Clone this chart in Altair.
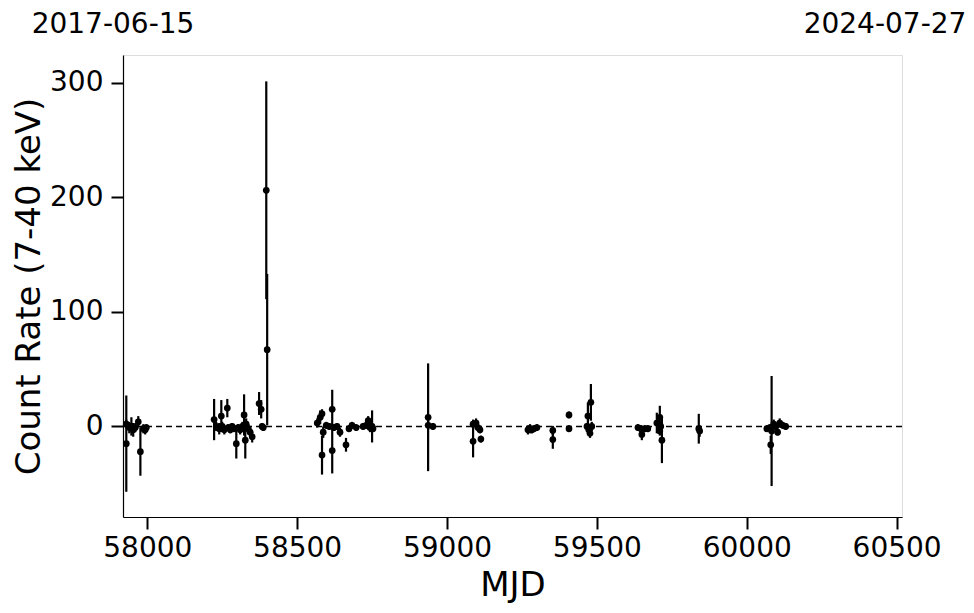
import altair as alt
import pandas as pd

# Light-curve values (MJD, count rate, 1-sigma error)
mjd = [
    57930, 57930, 57940, 57947, 57953, 57960, 57970, 57977, 57987, 57993, 57997,
    58223, 58230, 58240, 58247, 58250, 58257, 58267, 58270, 58277, 58283, 58290,
    58297, 58303, 58310, 58317, 58323, 58327, 58330, 58337, 58343, 58350, 58373,
    58380, 58383, 58387, 58397, 58400,
    58567, 58577, 58583, 58583, 58587, 58597, 58607, 58617, 58617, 58623, 58633,
    58643, 58663, 58673, 58683, 58697, 58720, 58730, 58737, 58743, 58750, 58753,
    58937, 58937, 58953,
    59087, 59087, 59097, 59103, 59110, 59113,
    59270, 59277, 59283, 59290, 59300,
    59353, 59353, 59407, 59407,
    59467, 59470, 59473, 59477, 59480, 59483,
    59637, 59647, 59650, 59660, 59670,
    59700, 59710, 59710, 59713, 59717,
    59840, 59843,
    60067, 60077, 60080, 60083, 60090, 60097, 60103, 60110, 60120, 60130,
]
rate = [
    -15, 2, -1, 0, -3, -1, 4, -22, -2, -3, -1,
    6, 0, -2, 9, 0, -3, 16, -1, -3, 0, -2,
    -15, -1, -3, 0, 10, -12, 2, -2, -5, -9, 20,
    15, 0, -1, 206, 67,
    3, 8, 11, -25, -5, 1, 0, 15, -21, -1, 0,
    -5, -16, -2, 1, -1, 0, 1, 5, -1, 0, -2,
    8, 1, 0,
    2, -13, 3, -1, -3, -11,
    -3, -2, -3, -2, -1,
    -3.5, -11.5, 10, -2,
    0, 9, -3, -6, 21, 0,
    -1, -2, -7, -2, -2,
    3, 8, -4, 0, -12,
    -2, -4,
    -2, -1, -16, -4, 2, 0, -5, 3, 1, 0,
]
err = [
    42, 4, 5, 8, 6, 4, 5, 21, 4, 4, 3,
    18, 4, 5, 14, 4, 4, 8, 3, 3, 3, 3,
    13, 3, 4, 4, 18, 16, 5, 4, 4, 5, 10,
    8, 3, 3, 95, 66,
    4, 6, 4, 17, 5, 3, 3, 17, 20, 3, 3,
    4, 6, 3, 3, 3, 3, 3, 4, 4, 14, 3,
    47, 4, 3,
    4, 14, 4, 3, 3, 3,
    4, 4, 3, 3, 3,
    4, 8, 3, 3,
    3, 12, 4, 4, 16, 4,
    3, 3, 5, 3, 3,
    9, 10, 4, 4, 20,
    13, 5,
    3, 3, 8, 48, 4, 3, 3, 4, 3, 3,
]

x_ticks = [58000, 58500, 59000, 59500, 60000, 60500]
y_ticks = [0, 100, 200, 300]
x_domain = [57919, 60518]
y_domain = [-79, 324]
date_labels = ["2017-06-15", "2024-07-27"]
date_mjd = [57919, 60518]

df = pd.DataFrame({"mjd": mjd, "rate": rate, "err": err})
df["lo"] = df["rate"] - df["err"]
df["hi"] = df["rate"] + df["err"]

FONT = "DejaVu Sans"

xscale = alt.Scale(domain=x_domain, nice=False, zero=False)
yscale = alt.Scale(domain=y_domain, nice=False, zero=False)

xax = alt.Axis(values=x_ticks, format="d", title="MJD", grid=False,
               labelFontSize=28, titleFontSize=34, titleFontWeight="normal",
               tickSize=12, tickWidth=2, tickColor="black", domainColor="black",
               domainWidth=1.2, labelColor="black", titleColor="black",
               labelPadding=5, titlePadding=6, labelFont=FONT, titleFont=FONT)
yax = alt.Axis(values=y_ticks, format="d", title="Count Rate (7-40 keV)", grid=False,
               labelFontSize=28, titleFontSize=34, titleFontWeight="normal",
               tickSize=12, tickWidth=2, tickColor="black", domainColor="black",
               domainWidth=1.2, labelColor="black", titleColor="black",
               labelPadding=8, titlePadding=3, labelFont=FONT, titleFont=FONT)

base = alt.Chart(df)

bars = base.mark_rule(color="black", strokeWidth=2.2).encode(
    x=alt.X("mjd:Q", scale=xscale, axis=xax),
    y=alt.Y("lo:Q", scale=yscale, axis=yax),
    y2="hi:Q",
)

pts = base.mark_circle(color="black", size=45, opacity=1).encode(
    x=alt.X("mjd:Q", scale=xscale),
    y=alt.Y("rate:Q", scale=yscale),
)

zero = alt.Chart(pd.DataFrame({"y": [0]})).mark_rule(
    color="black", strokeWidth=1.5, strokeDash=[6, 4]
).encode(y=alt.Y("y:Q", scale=yscale))

lab_df = pd.DataFrame({"mjd": date_mjd, "label": date_labels})
left_lab = alt.Chart(lab_df.iloc[[0]]).mark_text(
    font=FONT, fontSize=28, color="black", align="center", baseline="alphabetic", dx=-10
).encode(x=alt.X("mjd:Q", scale=xscale), y=alt.value(-22), text="label:N")
right_lab = alt.Chart(lab_df.iloc[[1]]).mark_text(
    font=FONT, fontSize=28, color="black", align="center", baseline="alphabetic", dx=-17
).encode(x=alt.X("mjd:Q", scale=xscale), y=alt.value(-22), text="label:N")

chart = alt.layer(zero, bars, pts, left_lab, right_lab).properties(
    width=779, height=462,
    autosize=alt.AutoSizeParams(type="none"),
    padding={"left": 115, "top": 47, "right": 64, "bottom": 90},
).configure_view(stroke="black", strokeWidth=1.2).configure(background="white")

chart.save("out.html", embed_options={"renderer": "svg", "actions": False})
